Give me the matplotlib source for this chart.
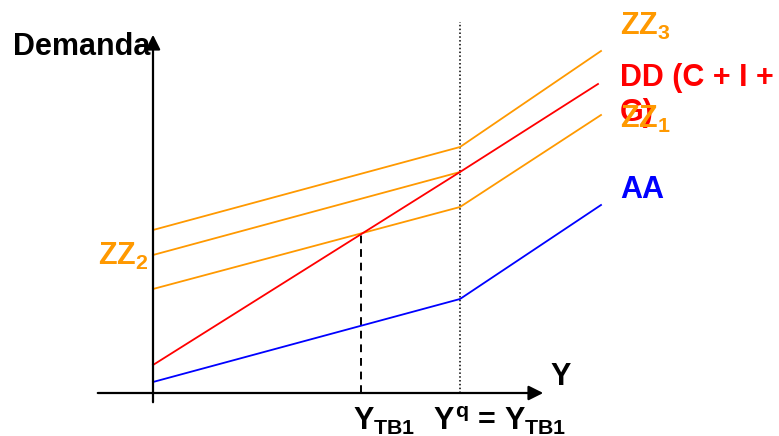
import matplotlib.pyplot as plt

plt.rcParams['font.family'] = ['Liberation Sans', 'DejaVu Sans']
plt.rcParams['font.weight'] = 'bold'
plt.rcParams['mathtext.fontset'] = 'custom'
plt.rcParams['mathtext.rm'] = 'Liberation Sans:bold'
plt.rcParams['mathtext.it'] = 'Liberation Sans:bold'
plt.rcParams['mathtext.bf'] = 'Liberation Sans:bold'

ORANGE = '#FF9900'
RED = '#FF0000'
BLUE = '#0000FF'

# output levels (origin at the axes crossing)
x_pts = [0, 307, 448]
zz3 = [163, 246, 342]
zz2_x = [0, 307]
zz2 = [138, 221]
zz1 = [104, 186, 278]
dd_x = [0, 307, 445]
dd = [28, 221, 309]
aa = [11, 94, 188]

y_tb1 = 208
y_tb1_level = 161
y_q = 307

fig = plt.figure(figsize=(7.79, 4.36), dpi=100)
ax = fig.add_axes([0, 0, 1, 1])
ax.set_xlim(-153, 779 - 153)
ax.set_ylim(393 - 436, 393)
ax.axis('off')

# axes with arrows
ax.annotate('', xy=(0, 361), xytext=(0, -12),
            arrowprops=dict(arrowstyle='-|>', mutation_scale=22, lw=1.6, color='black'))
ax.annotate('', xy=(393, 0), xytext=(-58, 0),
            arrowprops=dict(arrowstyle='-|>', mutation_scale=22, lw=1.6, color='black'))

# guide lines
ax.plot([y_q, y_q], [0, 371], color='black', lw=1.1, ls=(0, (1, 1.5)))
ax.plot([y_tb1, y_tb1], [0, y_tb1_level], color='black', lw=1.4, ls=(0, (4, 3)))

ax.plot(x_pts, zz3, color=ORANGE, lw=1.3)
ax.plot(zz2_x, zz2, color=ORANGE, lw=1.3)
ax.plot(x_pts, zz1, color=ORANGE, lw=1.3)
ax.plot(dd_x, dd, color=RED, lw=1.3)
ax.plot(x_pts, aa, color=BLUE, lw=1.3)

fs = 22
ax.text(-140, 338, 'Demanda', fontsize=fs, color='black', va='baseline')
ax.text(467, 358, '$ZZ_3$', fontsize=fs, color=ORANGE, va='baseline')
# va='baseline' on multi-line text anchors the last line
ax.text(467, 272, 'DD (C + I +\nG)', fontsize=fs, color=RED, va='baseline',
        linespacing=1.2)
ax.text(467, 265, '$ZZ_1$', fontsize=fs, color=ORANGE, va='baseline')
ax.text(467, 195, 'AA', fontsize=fs, color=BLUE, va='baseline')
ax.text(-55, 128, '$ZZ_2$', fontsize=fs, color=ORANGE, va='baseline')
ax.text(397, 8, 'Y', fontsize=fs, color='black', va='baseline')
ax.text(200, -37, '$Y_{TB1}$', fontsize=fs, color='black', va='baseline')
ax.text(280, -37, '$Y^q$ = $Y_{TB1}$', fontsize=fs, color='black', va='baseline')

fig.savefig('out.png', dpi=100)
